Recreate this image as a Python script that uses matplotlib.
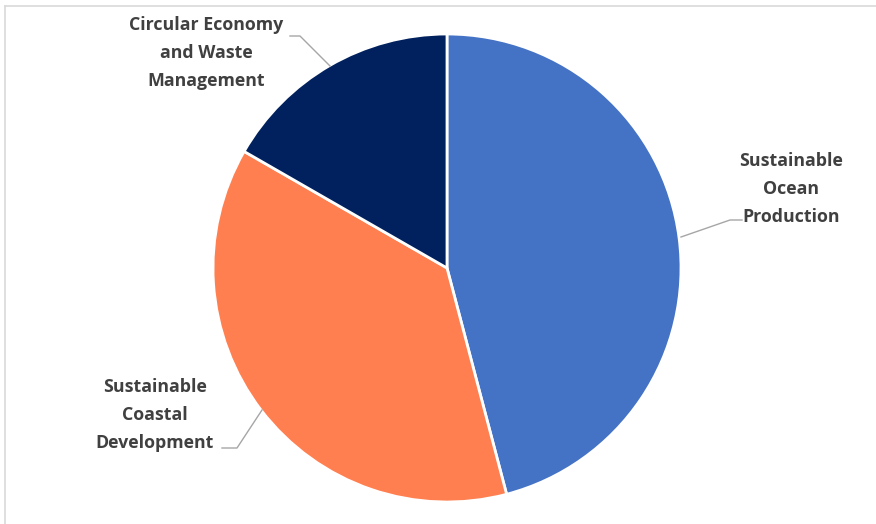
import matplotlib
matplotlib.use("Agg")
import matplotlib.pyplot as plt
from matplotlib.lines import Line2D

categories = ["Sustainable\nOcean\nProduction",
              "Sustainable\nCoastal\nDevelopment",
              "Circular Economy\nand Waste\nManagement"]
values = [45.9, 37.4, 16.7]
colors = ["#4472C4", "#FF7F50", "#00215E"]

W, H = 876, 524
fig = plt.figure(figsize=(W / 100, H / 100), dpi=100)
fig.patch.set_facecolor("white")

def fx(x):
    return x / W

def fy(y):
    return 1 - y / H

# light border of chart area
fig.add_artist(Line2D([fx(5), fx(876)], [fy(6), fy(6)], color="#d9d9d9", lw=1.2))
fig.add_artist(Line2D([fx(5), fx(5)], [fy(6), fy(524)], color="#d9d9d9", lw=1.2))

cx, cy, r = 447, 268, 234
ax = fig.add_axes([fx(cx - r), fy(cy + r), 2 * r / W, 2 * r / H])
ax.pie(values, colors=colors, startangle=90, counterclock=False,
       wedgeprops=dict(edgecolor="white", linewidth=2))
ax.set_xlim(-1, 1)
ax.set_ylim(-1, 1)
ax.set_aspect("equal")
ax.axis("off")

text_kw = dict(ha="center", va="center", fontsize=12.8, color="#404040",
               fontweight="bold", family=["Open Sans", "DejaVu Sans"],
               linespacing=1.72)

label_pos = [(791, 189), (155, 415), (206, 53)]
for lab, (x, y) in zip(categories, label_pos):
    fig.text(fx(x), fy(y), lab, **text_kw)

leaders = [
    [(681, 237), (730, 220), (742, 220)],
    [(262, 410), (237, 448), (222, 448)],
    [(330, 66), (300, 36), (290, 36)],
]
for pts in leaders:
    xs = [fx(p[0]) for p in pts]
    ys = [fy(p[1]) for p in pts]
    fig.add_artist(Line2D(xs, ys, color="#a6a6a6", lw=1))

fig.savefig("out.png", dpi=100, facecolor="white")
